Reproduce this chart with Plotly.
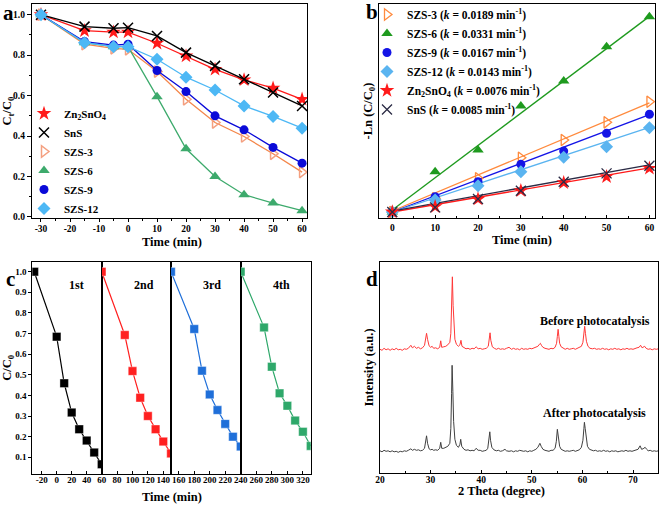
import plotly.graph_objects as go

# ---------------- data ----------------
# panel a : Ct/C0 vs time
time_a = [-30, -15, -5, 0, 10, 20, 30, 40, 50, 60]
a_zn = [1.0, 0.921, 0.914, 0.914, 0.859, 0.796, 0.730, 0.678, 0.637, 0.582]
a_sns = [1.0, 0.941, 0.933, 0.936, 0.895, 0.8125, 0.747, 0.681, 0.615, 0.549]
a_szs3 = [1.0, 0.854, 0.834, 0.829, 0.719, 0.582, 0.467, 0.398, 0.3125, 0.222]
a_szs6 = [1.0, 0.862, 0.842, 0.842, 0.595, 0.337, 0.200, 0.110, 0.069, 0.031]
a_szs9 = [1.0, 0.867, 0.850, 0.854, 0.724, 0.620, 0.500, 0.431, 0.344, 0.266]
a_szs12 = [1.0, 0.862, 0.842, 0.842, 0.780, 0.691, 0.628, 0.549, 0.497, 0.439]
a_names = ["Zn<sub>2</sub>SnO<sub>4</sub>", "SnS", "SZS-3", "SZS-6", "SZS-9", "SZS-12"]
a_xticks = [-30, -20, -10, 0, 10, 20, 30, 40, 50, 60]
a_xticktext = ["-30", "-20", "-10", "0", "10", "20", "30", "40", "50", "60"]
a_yticks = [0.0, 0.2, 0.4, 0.6, 0.8, 1.0]
a_yticktext = ["0.0", "0.2", "0.4", "0.6", "0.8", "1.0"]

# panel b : -ln(C/C0) vs time
time_b = [0, 10, 20, 30, 40, 50, 60]
b_szs3 = [0, 0.139, 0.343, 0.552, 0.732, 0.912, 1.122]
b_szs6 = [0, 0.410, 0.630, 1.078, 1.333, 1.682, 1.987]
b_szs9 = [0, 0.156, 0.308, 0.485, 0.620, 0.800, 0.994]
b_szs12 = [0, 0.122, 0.268, 0.410, 0.556, 0.664, 0.858]
b_zn = [0, 0.054, 0.132, 0.217, 0.298, 0.359, 0.445]
b_sns = [0, 0.047, 0.132, 0.217, 0.308, 0.393, 0.471]
fit_t = [0, 60]
fit_szs3 = [0.01, 1.11]
fit_szs6 = [0.02, 1.99]
fit_szs9 = [0.0, 0.99]
fit_szs12 = [0.0, 0.86]
fit_zn = [0.0, 0.45]
fit_sns = [0.01, 0.48]
b_names = ["SZS-3 (<i>k</i> = 0.0189 min<sup>-1</sup>)",
           "SZS-6 (<i>k</i> = 0.0331 min<sup>-1</sup>)",
           "SZS-9 (<i>k</i> = 0.0167 min<sup>-1</sup>)",
           "SZS-12 (<i>k</i> = 0.0143 min<sup>-1</sup>)",
           "Zn<sub>2</sub>SnO<sub>4</sub> (<i>k</i> = 0.0076 min<sup>-1</sup>)",
           "SnS (<i>k</i> = 0.0085 min<sup>-1</sup>)"]
b_xticks = [0, 10, 20, 30, 40, 50, 60]

# panel c : cycling
c1_t = [-30, 0, 10, 20, 30, 40, 50, 60]
c1_v = [1.0, 0.685, 0.459, 0.317, 0.236, 0.181, 0.123, 0.066]
c2_t = [60, 90, 100, 110, 120, 130, 140, 150]
c2_v = [1.0, 0.693, 0.518, 0.389, 0.300, 0.236, 0.176, 0.119]
c3_t = [150, 180, 190, 200, 210, 220, 230, 240]
c3_v = [1.0, 0.722, 0.520, 0.405, 0.329, 0.262, 0.200, 0.152]
c4_t = [240, 270, 280, 290, 300, 310, 320, 330]
c4_v = [1.0, 0.730, 0.539, 0.410, 0.350, 0.278, 0.224, 0.155]
c_labels = ["1st", "2nd", "3rd", "4th"]
c_xticks = [[-20, 0, 20, 40, 60], [80, 100, 120, 140], [160, 180, 200, 220, 240], [260, 280, 300, 320]]
c_yticks = [0.1, 0.2, 0.3, 0.4, 0.5, 0.6, 0.7, 0.8, 0.9, 1.0]
c_yticktext = ["0.1", "0.2", "0.3", "0.4", "0.5", "0.6", "0.7", "0.8", "0.9", "1.0"]

# panel d : XRD patterns (2theta, intensity a.u.)
xrd_before = [(20.0,124),(20.4,123),(20.8,125),(21.2,123.5),(21.6,124.5),(22.0,123),(22.4,124.5),(22.8,123.5),
    (23.2,125),(23.6,123.5),(24.0,124),(24.4,123),(24.8,124.5),(25.2,124),(25.6,125),(25.9,127),(26.1,128),
    (26.4,125.5),(26.8,127),(27.2,125),(27.6,126),(28.0,124.5),(28.4,125.5),(28.8,128),(29.0,134),(29.2,140),
    (29.4,134),(29.7,127.5),(30.0,126),(30.3,127),(30.6,125),(31.0,125.5),(31.4,124.5),(31.8,126),(32.0,132.5),
    (32.2,126),(32.6,126.5),(33.0,127),(33.4,128.5),(33.8,131),(34.0,140),(34.15,165),(34.3,196.5),(34.45,168),
    (34.6,145),(34.8,134),(35.1,129),(35.5,127),(35.8,128.5),(36.0,133),(36.2,127),(36.6,125.5),(37.0,124.5),
    (37.4,125),(37.8,124),(38.2,125),(38.6,124.5),(39.0,126.5),(39.4,124.5),(39.8,125),(40.2,124),(40.6,124.5),
    (41.0,125),(41.4,127),(41.6,133),(41.75,140.5),(41.9,133),(42.2,126.5),(42.6,125),(43.0,124),(43.4,125),
    (43.8,124),(44.2,124.5),(44.6,124),(45.0,125),(45.5,126),(46.0,124),(46.4,125),(46.8,124),(47.2,124.5),
    (47.6,123.5),(48.0,125),(48.4,124),(48.8,124.5),(49.2,124),(49.6,125),(50.0,124.5),(50.4,125.5),(50.8,126),
    (51.2,127),(51.5,129),(51.7,130),(51.9,128),(52.2,126),(52.6,125),(53.0,124.5),(53.4,124),(53.8,125),
    (54.2,124.5),(54.6,126),(54.9,130),(55.05,137),(55.2,144),(55.35,137),(55.5,130),(55.8,126.5),(56.2,125),
    (56.6,124),(57.0,125),(57.4,124),(57.8,124.5),(58.2,125),(58.6,124),(59.0,125),(59.4,125.5),(59.8,127),
    (60.1,131),(60.3,140),(60.45,147),(60.6,140),(60.8,132),(61.1,127),(61.5,125),(62.0,124.5),(62.4,125),
    (62.8,124),(63.2,124.5),(63.6,124),(64.0,125),(64.4,124),(64.8,124.5),(65.2,123.5),(65.6,124.5),(66.0,124),
    (66.4,125),(66.8,124),(67.2,124.5),(67.6,123.5),(68.0,124.5),(68.4,124),(68.8,125),(69.2,124),(69.6,124.5),
    (70.0,124),(70.4,125),(70.8,125.5),(71.2,126),(71.5,128),(71.8,125.5),(72.1,126),(72.3,127),(72.6,125),
    (73.0,124),(73.4,124.5),(73.8,123.5),(74.2,124.5),(74.6,124),(75.0,124.5)]
xrd_after = [(20.0,22.5),(20.4,21.5),(20.8,23),(21.2,22),(21.6,22.5),(22.0,21.5),(22.4,22.5),(22.8,21.5),
    (23.2,22),(23.6,21),(24.0,22),(24.4,21.5),(24.8,22.5),(25.2,22),(25.6,23),(25.9,24),(26.1,24.5),(26.4,23),
    (26.8,24),(27.2,23),(27.6,23.5),(28.0,22.5),(28.4,23),(28.8,25),(29.0,31),(29.2,37.5),(29.4,30),(29.7,24.5),
    (30.0,23.5),(30.3,24),(30.6,23),(31.0,23.5),(31.4,23),(31.8,25),(32.0,31),(32.2,25),(32.6,25),(33.0,26),
    (33.4,27),(33.8,30),(34.0,45),(34.15,80),(34.25,108),(34.4,82),(34.55,52),(34.8,34),(35.1,28),(35.5,26),
    (35.8,29),(35.95,34),(36.15,27),(36.6,24),(37.0,23),(37.4,23.5),(37.8,22.5),(38.2,23),(38.6,22.5),(39.0,25),
    (39.4,23),(39.8,23),(40.2,22),(40.6,22.5),(41.0,23),(41.3,25),(41.55,33),(41.7,41.5),(41.85,33),(42.1,26),
    (42.5,23.5),(43.0,22.5),(43.4,23),(43.8,22),(44.2,22.5),(44.7,24),(45.0,22.5),(45.5,22),(46.0,22.5),
    (46.4,21.5),(46.8,22.5),(47.2,22),(47.6,23),(48.0,22.5),(48.4,22),(48.8,22.5),(49.2,21.5),(49.6,22.5),
    (50.0,22),(50.4,23),(50.8,24),(51.2,26),(51.45,29),(51.6,30),(51.85,27),(52.2,24),(52.6,23),(53.0,22.5),
    (53.4,22),(53.8,23),(54.2,23),(54.6,25),(54.85,32),(55.05,44),(55.25,34),(55.5,27),(55.8,24),(56.2,23),
    (56.6,22),(57.0,22.5),(57.4,22),(57.8,22.5),(58.2,23),(58.6,22),(59.0,23),(59.4,23.5),(59.8,26),(60.1,33),
    (60.3,45),(60.4,51),(60.55,45),(60.75,33),(61.0,27),(61.4,24),(61.8,23),(62.2,22.5),(62.6,23),(63.0,22),
    (63.4,22.5),(63.8,22),(64.2,23),(64.6,22),(65.0,22.5),(65.4,21.5),(65.8,22.5),(66.2,22),(66.6,22.5),
    (67.0,21.5),(67.4,22),(67.8,22.5),(68.2,22),(68.6,23),(69.0,22),(69.4,22.5),(69.8,22),(70.2,22.5),(70.6,23),
    (71.0,24),(71.4,27.5),(71.7,24),(72.0,24.5),(72.4,26),(72.7,24),(73.0,22.5),(73.4,23),(73.8,22),(74.2,22.5),
    (74.6,22),(75.0,22.5)]
d_labels = ["Before photocatalysis", "After photocatalysis"]
d_xticks = [20, 30, 40, 50, 60, 70]

# ---------------- style ----------------
W, H = 661, 505
SERIF = "Liberation Serif, Times New Roman, serif"
tick_font = dict(family=SERIF, size=9.5, color="black", weight="bold")
tick_font_c = dict(family=SERIF, size=9, color="black", weight="bold")
title_font = dict(family=SERIF, size=12.5, color="black", weight="bold")
leg_font = dict(family=SERIF, size=11, color="black", weight="bold")


def dxp(a, b):
    return [a / W, b / W]


def dyp(top, bottom):
    return [1 - bottom / H, 1 - top / H]


axis_base = dict(showline=True, linecolor="black", linewidth=1.3, mirror=True, automargin=False,
                 ticks="outside", ticklen=4, tickwidth=1, tickcolor="black", tickangle=0,
                 showgrid=False, zeroline=False, tickfont=tick_font)

fig = go.Figure()

# ---- panel a ----
a_series = [a_zn, a_sns, a_szs3, a_szs6, a_szs9, a_szs12]
a_colors = ["#ff1a1a", "#000000", "#f4874b", "#3daa6c", "#0a0ad8", "#4db8f5"]
a_mcolors = ["#ff1a1a", "#000000", "#f4a080", "#3daa6c", "#0a0ad8", "#4db8f5"]
a_symbols = ["star", "x-thin-open", "triangle-right-open", "triangle-up", "circle", "diamond"]
a_sizes = [11, 10, 10, 10, 9, 10]
for vals, col, mcol, sym, sz, nm in zip(a_series, a_colors, a_mcolors, a_symbols, a_sizes, a_names):
    fig.add_trace(go.Scatter(x=time_a, y=vals, mode="lines", line=dict(color=col, width=1.3),
                             xaxis="x", yaxis="y", showlegend=False, hoverinfo="skip"))
    fig.add_trace(go.Scatter(x=time_a, y=vals, mode="markers", name=nm, legend="legend",
                             marker=dict(symbol=sym, size=sz, color=mcol,
                                         line=dict(color=mcol, width=1.5 if "open" in sym else 0)),
                             xaxis="x", yaxis="y"))

# ---- panel b ----
b_series = [b_szs3, b_szs6, b_szs9, b_szs12, b_zn, b_sns]
b_fits = [fit_szs3, fit_szs6, fit_szs9, fit_szs12, fit_zn, fit_sns]
b_colors = ["#ff8a3d", "#1e9a1e", "#1414e6", "#5ab4f0", "#ff1a1a", "#2b2b45"]
b_symbols = ["triangle-right-open", "triangle-up", "circle", "diamond", "star", "x-thin-open"]
b_sizes = [10, 10, 9, 10, 11, 10]
for fv, col in zip(b_fits, b_colors):
    fig.add_trace(go.Scatter(x=fit_t, y=fv, mode="lines", line=dict(color=col, width=1.3),
                             xaxis="x2", yaxis="y2", showlegend=False, hoverinfo="skip"))
for vals, col, sym, sz, nm in zip(b_series, b_colors, b_symbols, b_sizes, b_names):
    fig.add_trace(go.Scatter(x=time_b, y=vals, mode="markers", name=nm, legend="legend2",
                             marker=dict(symbol=sym, size=sz, color=col,
                                         line=dict(color=col, width=1.3 if "open" in sym else 0)),
                             xaxis="x2", yaxis="y2"))

# ---- panel c ----
c_sets = [(c1_t, c1_v), (c2_t, c2_v), (c3_t, c3_v), (c4_t, c4_v)]
c_colors = ["#000000", "#ff2020", "#1f6fd9", "#2ea86a"]
c_ranges = [[-32.5, 60], [60, 150], [150, 240], [240, 330]]
c_domains = [(32.3, 101.7), (101.7, 171.0), (171.0, 240.7), (240.7, 310.7)]
for i, ((tt, vv), col) in enumerate(zip(c_sets, c_colors)):
    xa = "x%d" % (i + 3)
    ya = "y%d" % (i + 3)
    fig.add_trace(go.Scatter(x=tt, y=vv, mode="lines+markers", line=dict(color=col, width=1.2),
                             marker=dict(symbol="square", size=8.5, color=col,
                                         line=dict(color="rgba(255,255,255,0.6)", width=0.6)),
                             xaxis=xa, yaxis=ya, showlegend=False, cliponaxis=True))

# ---- panel d ----
fig.add_trace(go.Scatter(x=[p[0] for p in xrd_before], y=[p[1] for p in xrd_before], mode="lines",
                         line=dict(color="#ff3838", width=1), xaxis="x7", yaxis="y7", showlegend=False))
fig.add_trace(go.Scatter(x=[p[0] for p in xrd_after], y=[p[1] for p in xrd_after], mode="lines",
                         line=dict(color="#404040", width=1), xaxis="x7", yaxis="y7", showlegend=False))

layout = dict(
    width=W, height=H, margin=dict(l=0, r=0, t=0, b=0, autoexpand=False),
    paper_bgcolor="white", plot_bgcolor="white",
    font=dict(family=SERIF, color="black"),
    legend=dict(x=24 / W, y=1 - 99 / H, xanchor="left", yanchor="top", bgcolor="rgba(0,0,0,0)",
                font=leg_font, itemwidth=30, tracegroupgap=0),
    legend2=dict(x=367 / W, y=1 - 0 / H, xanchor="left", yanchor="top", bgcolor="rgba(0,0,0,0)",
                 font=dict(family=SERIF, size=11.5, color="black", weight="bold"), itemwidth=30,
                 tracegroupgap=0),
)

# axes a
layout["xaxis"] = dict(axis_base, domain=dxp(32, 307), anchor="y", range=[-33.1, 61.7],
                       tickvals=a_xticks, ticktext=a_xticktext, ticklen=3, ticklabelstandoff=-2,
                       minor=dict(ticks="outside", ticklen=2, dtick=5, tick0=0, tickcolor="black"))
layout["yaxis"] = dict(axis_base, domain=dyp(4, 218), anchor="x", range=[-0.005, 1.053],
                       tickvals=a_yticks, ticktext=a_yticktext,
                       minor=dict(ticks="outside", ticklen=2, dtick=0.1, tick0=0, tickcolor="black"),
                       title=dict(text="C<sub>t</sub>/C<sub>0</sub>", font=title_font, standoff=3))
# axes b
layout["xaxis2"] = dict(axis_base, domain=dxp(379, 655), anchor="y2", range=[-3.1, 61.3],
                        tickvals=b_xticks, ticks="inside", ticklen=3,
                        minor=dict(ticks="inside", ticklen=2, dtick=5, tick0=0, tickcolor="black"))
layout["yaxis2"] = dict(axis_base, domain=dyp(4, 218), anchor="x2", range=[-0.061, 2.116],
                        showticklabels=False, ticks="",
                        title=dict(text="-Ln (C/C<sub>0</sub>)", font=title_font, standoff=2))
# axes c (broken axis: four segments)
for i in range(4):
    n = i + 3
    xa = dict(axis_base, domain=dxp(*c_domains[i]), anchor="y%d" % n, range=c_ranges[i],
              tickvals=c_xticks[i], ticktext=[str(v) for v in c_xticks[i]], linewidth=1.1,
              ticks="inside", ticklen=3, tickfont=tick_font_c, ticklabelstandoff=-3)
    ya = dict(axis_base, domain=dyp(261.7, 474), anchor="x%d" % n, range=[0.019, 1.0485],
              linewidth=1.1, ticks="outside", ticklen=3, tickfont=tick_font_c)
    if i == 0:
        ya.update(tickvals=c_yticks, ticktext=c_yticktext,
                  title=dict(text="C/C<sub>0</sub>", font=title_font, standoff=3))
    else:
        ya.update(showticklabels=False, ticks="", matches="y3")
    layout["xaxis%d" % n] = xa
    layout["yaxis%d" % n] = ya

# axes d
layout["xaxis7"] = dict(axis_base, domain=dxp(380, 658.3), anchor="y7", range=[20, 75],
                        tickvals=d_xticks, ticks="inside", ticklen=3, ticklabelstandoff=-3,
                        minor=dict(ticks="inside", ticklen=2, dtick=5, tick0=0, tickcolor="black"))
layout["yaxis7"] = dict(axis_base, domain=dyp(261.7, 473.3), anchor="x7", range=[0, 211.6],
                        showticklabels=False, ticks="",
                        title=dict(text="Intensity (a.u.)", font=title_font, standoff=2))

fig.update_layout(**layout)

ann = []
letter_font = dict(family=SERIF, size=21, color="black", weight="bold")
for txt, x, y in [("a", 8, 13), ("b", 371.7, 12), ("c", 10.5, 279), ("d", 371.7, 279)]:
    ann.append(dict(text=txt, x=x / W, y=1 - y / H, xref="paper", yref="paper", showarrow=False,
                    xanchor="center", yanchor="middle", font=letter_font))
# x-axis titles
for txt, x, y in [("Time (min)", 171.7, 241.5), ("Time (min)", 521.7, 239.5),
                  ("Time (min)", 171.5, 496.5), ("2 Theta (degree)", 501.7, 490.5)]:
    ann.append(dict(text=txt, x=x / W, y=1 - y / H, xref="paper", yref="paper",
                    showarrow=False, xanchor="center", yanchor="middle", font=title_font))
lab_font = dict(family=SERIF, size=12, color="black", weight="bold")
for txt, x in zip(c_labels, [76.7, 144.3, 212.3, 281.7]):
    ann.append(dict(text=txt, x=x / W, y=1 - 285 / H, xref="paper", yref="paper", showarrow=False,
                    xanchor="center", yanchor="middle", font=lab_font))
for txt, y in zip(d_labels, [152.6, 60.0]):
    ann.append(dict(text=txt, x=62.4, y=y, xref="x7", yref="y7", showarrow=False,
                    xanchor="center", yanchor="middle", font=lab_font))
fig.update_layout(annotations=ann)

fig.write_html("out.html", config={"displayModeBar": False},
               post_script="document.body.style.margin='0';document.body.style.overflow='hidden';")
